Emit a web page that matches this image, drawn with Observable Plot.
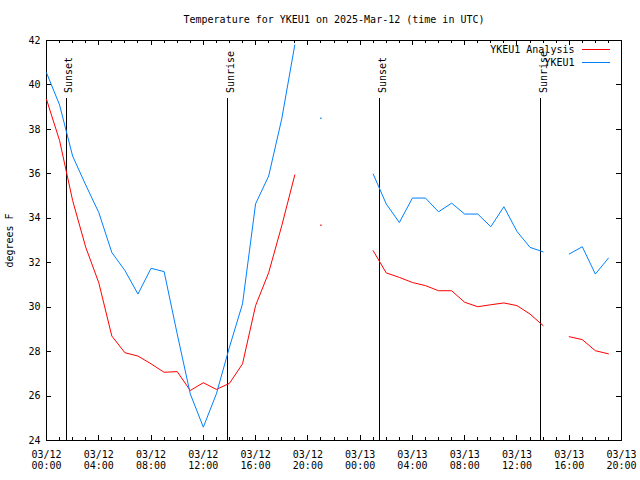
<!DOCTYPE html>
<html>
<head>
<meta charset="utf-8">
<script src="https://cdn.jsdelivr.net/npm/d3@7"></script>
<script src="https://cdn.jsdelivr.net/npm/@observablehq/plot@0.6"></script>
<style>
  html, body { margin: 0; padding: 0; background: #ffffff; }
</style>
</head>
<body>
<div id="chart"></div>
<script>
// ---------- data ----------
const title = "Temperature for YKEU1 on 2025-Mar-12 (time in UTC)";
const yLabel = "degrees F";
const startDay = "2025-03-12T00:00Z";

// hours after 2025-03-12 00:00 UTC
const hours = [0, 1, 2, 3, 4, 5, 6, 7, 8, 9, 10, 11, 12, 13, 14, 15, 16, 17, 18, 19, 20, 21,
               22, 23, 24, 25, 26, 27, 28, 29, 30, 31, 32, 33, 34, 35, 36, 37, 38, 39, 40, 41, 42, 43];

// YKEU1 Analysis (red)
const analysis = [39.35, 37.5, 34.8, 32.7, 31.1, 28.7, 27.95, 27.8, 27.45, 27.07, 27.1, 26.25,
                  26.6, 26.3, 26.57, 27.45, 30.07, 31.55, 33.66, 35.95, null, 33.69,
                  null, null, null, 32.54, 31.54, 31.34, 31.11, 30.97, 30.74, 30.74, 30.22, 30.02,
                  30.11, 30.19, 30.07, 29.69, 29.17, null, 28.67, 28.54, 28.04, 27.9];

// YKEU1 observations (blue)
const observed = [40.55, 39.1, 36.8, 35.5, 34.26, 32.46, 31.65, 30.59, 31.75, 31.6, 28.8, 26.1,
                  24.6, 26.1, 28.2, 30.15, 34.65, 35.9, 38.47, 41.8, null, 38.5,
                  null, null, null, 35.99, 34.64, 33.81, 34.91, 34.91, 34.29, 34.68, 34.19, 34.19,
                  33.62, 34.52, 33.41, 32.69, 32.49, null, 32.39, 32.72, 31.49, 32.21];

const seriesNames = ["YKEU1 Analysis", "YKEU1"];
const seriesKeys = ["analysis", "observed"];
const seriesColors = ["#ff0000", "#0080ff"];

const eventNames = ["Sunset", "Sunrise", "Sunset", "Sunrise"];
const eventTimes = ["2025-03-12T01:30Z", "2025-03-12T13:52Z", "2025-03-13T01:31Z", "2025-03-13T13:50Z"];

const xTickTimes = ["2025-03-12T00:00Z", "2025-03-12T04:00Z", "2025-03-12T08:00Z", "2025-03-12T12:00Z",
                    "2025-03-12T16:00Z", "2025-03-12T20:00Z", "2025-03-13T00:00Z", "2025-03-13T04:00Z",
                    "2025-03-13T08:00Z", "2025-03-13T12:00Z", "2025-03-13T16:00Z", "2025-03-13T20:00Z"];
const yTicks = [24, 26, 28, 30, 32, 34, 36, 38, 40, 42];

// ---------- build ----------
const W = 640, H = 480, mL = 46, mR = 19, mT = 40, mB = 40;
const innerW = W - mL - mR, innerH = H - mT - mB;
const base = new Date(startDay).getTime();
const toDate = h => new Date(base + h * 3600e3);

const rows = hours.map((h, i) => ({time: toDate(h), analysis: analysis[i], observed: observed[i]}));
const isolated = key => rows.filter((r, i) =>
  r[key] != null && (i === 0 || rows[i - 1][key] == null) && (i === rows.length - 1 || rows[i + 1][key] == null));

const events = eventNames.map((n, i) => ({name: n, time: new Date(eventTimes[i])}));
const majorX = xTickTimes.map(t => new Date(t));
const majorSet = new Set(majorX.map(d => +d));
const minorX = hours.map(toDate).filter(d => !majorSet.has(+d));

const font = "'DejaVu Sans Mono', 'Liberation Mono', monospace";
const crisp = {stroke: "#000", strokeWidth: 1, shapeRendering: "crispEdges"};

const legendMark = (index, scales, values, dims) => {
  const g = d3.create("svg:g");
  seriesNames.forEach((n, i) => {
    const x2 = dims.width - dims.marginRight - 11;
    const y = dims.marginTop + 9.5 + 13 * i;
    g.append("line")
      .attr("x1", x2 - 28).attr("x2", x2)
      .attr("y1", y).attr("y2", y)
      .attr("stroke", seriesColors[i]).attr("stroke-width", 1)
      .attr("shape-rendering", "crispEdges");
  });
  return g.node();
};

const chart = Plot.plot({
  width: W, height: H,
  marginLeft: mL, marginRight: mR, marginTop: mT, marginBottom: mB,
  style: {fontFamily: font, fontSize: "10px", background: "#ffffff", color: "#000000"},
  x: {type: "utc", domain: [majorX[0], majorX[majorX.length - 1]], label: null},
  y: {domain: [24, 42], label: null},
  marks: [
    Plot.frame({...crisp}),
    // axes labels (library axes)
    Plot.axisX(majorX, {tickSize: 0, tickPadding: 10, tickFormat: d3.utcFormat("%m/%d\n%H:%M"), lineHeight: 1.1, label: null}),
    Plot.axisY(yTicks, {tickSize: 0, tickPadding: 6, label: null}),
    // inward ticks, mirrored
    Plot.ruleX(majorX, {x: d => d, insetTop: innerH - 5, ...crisp}),
    Plot.ruleX(majorX, {x: d => d, insetBottom: innerH - 5, ...crisp}),
    Plot.ruleX(minorX, {x: d => d, insetTop: innerH - 3, ...crisp}),
    Plot.ruleX(minorX, {x: d => d, insetBottom: innerH - 3, ...crisp}),
    Plot.ruleY(yTicks, {y: d => d, insetRight: innerW - 5, ...crisp}),
    Plot.ruleY(yTicks, {y: d => d, insetLeft: innerW - 5, ...crisp}),
    // sunrise / sunset
    Plot.ruleX(events, {x: "time", insetTop: 58, ...crisp}),
    Plot.text(events, {x: "time", text: "name", frameAnchor: "top", dy: 52.5, dx: 6, rotate: -90,
                       textAnchor: "start", lineAnchor: "bottom", fontSize: 10}),
    // series
    ...seriesKeys.map((k, i) => Plot.line(rows, {x: "time", y: k, stroke: seriesColors[i], strokeWidth: 1})),
    ...seriesKeys.map((k, i) => Plot.dot(isolated(k), {x: "time", y: k, r: 0.7, fill: seriesColors[i], stroke: null})),
    // title & y label
    Plot.text([title], {frameAnchor: "top", dy: -21, text: d => d, lineAnchor: "middle", fontSize: 10}),
    Plot.text([yLabel], {frameAnchor: "left", dx: -34, rotate: -90, text: d => d, textAnchor: "middle", lineAnchor: "bottom"}),
    // legend
    ...seriesNames.map((n, i) => Plot.text([n], {frameAnchor: "top-right", dx: -47, dy: 9.5 + 13 * i, text: d => d,
                                                 textAnchor: "end", lineAnchor: "middle"})),
    legendMark
  ]
});

document.getElementById("chart").append(chart);
</script>
</body>
</html>
